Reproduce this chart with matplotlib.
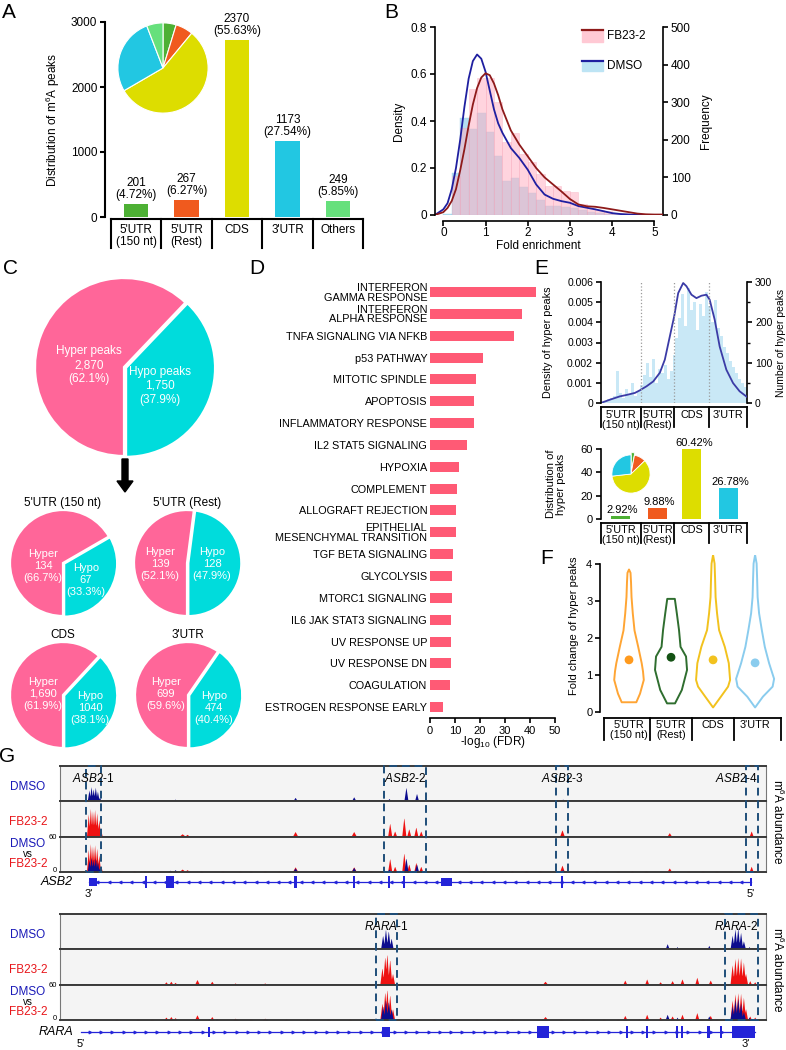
import numpy as np
import matplotlib
matplotlib.use("Agg")
import matplotlib.pyplot as plt
import matplotlib.transforms as mtransforms
from matplotlib.patches import Rectangle, Polygon, FancyArrow

plt.rcParams['font.family'] = ['Liberation Sans', 'DejaVu Sans']
plt.rcParams['mathtext.fontset'] = 'custom'
plt.rcParams['mathtext.rm'] = 'Liberation Sans'
plt.rcParams['mathtext.it'] = 'Liberation Sans:italic'
plt.rcParams['mathtext.default'] = 'regular'
plt.rcParams['axes.linewidth'] = 1.2
for _a in ('xtick', 'ytick'):
    plt.rcParams[f'{_a}.major.width'] = 1.2
    plt.rcParams[f'{_a}.major.size'] = 3.5
    plt.rcParams[f'{_a}.minor.width'] = 1.0
    plt.rcParams[f'{_a}.minor.size'] = 2.2
    plt.rcParams[f'{_a}.major.pad'] = 2
    plt.rcParams[f'{_a}.labelsize'] = 8

# ======================= DATA =======================
# --- A: distribution of m6A peaks
regions_a = ["5'UTR\n(150 nt)", "5'UTR\n(Rest)", "CDS", "3'UTR", "Others"]
peak_counts = [201, 267, 2370, 1173, 249]
peak_pcts = [4.72, 6.27, 55.63, 27.54, 5.85]
peak_bar_heights = [201, 267, 2730, 1173, 249]
region_colors = ['#4DB034', '#F05A1E', '#DDDD00', '#22C7E2', '#66E07C']

# --- B: fold enrichment
hist_bin_left = [0.0, 0.2, 0.4, 0.6, 0.8, 1.0, 1.2, 1.4, 1.6, 1.8, 2.0, 2.2, 2.4,
                 2.6, 2.8, 3.0, 3.2, 3.4, 3.6, 3.8, 4.0, 4.2, 4.4, 4.6, 4.8]
fb23_freq = [0, 105, 231, 335, 365, 365, 300, 195, 218, 163, 140, 110, 78,
             78, 65, 62, 30, 18, 12, 10, 6, 4, 2, 1, 0]
dmso_freq = [3, 112, 258, 228, 271, 220, 158, 90, 99, 74, 59, 40, 24,
             24, 22, 18, 12, 8, 5, 3, 2, 1, 0, 0, 0]
dens_x = [-0.2, 0.0, 0.1, 0.2, 0.3, 0.4, 0.5, 0.6, 0.7, 0.8, 0.9, 1.0, 1.1, 1.2, 1.3,
          1.4, 1.6, 1.8, 2.0, 2.2, 2.4, 2.6, 2.8, 3.0, 3.2, 3.4, 3.6, 3.8, 4.0,
          4.2, 4.4, 4.6, 4.8, 5.0, 5.2]
dmso_density = [0.0, 0.024, 0.05, 0.11, 0.2, 0.32, 0.46, 0.58, 0.655, 0.683, 0.665,
                0.61, 0.53, 0.45, 0.39, 0.35, 0.285, 0.243, 0.193, 0.13, 0.087,
                0.069, 0.059, 0.052, 0.038, 0.031, 0.024, 0.016, 0.008, 0.004,
                0.002, 0.001, 0.0, 0.0, 0.0]
fb23_density = [0.0, 0.012, 0.03, 0.06, 0.11, 0.19, 0.28, 0.38, 0.47, 0.54, 0.585,
                0.603, 0.595, 0.56, 0.51, 0.45, 0.36, 0.30, 0.25, 0.20, 0.16,
                0.13, 0.10, 0.068, 0.045, 0.037, 0.035, 0.030, 0.024, 0.018,
                0.012, 0.006, 0.003, 0.002, 0.002]

# --- C: hyper / hypo peaks
pie_groups = ["5'UTR (150 nt)", "5'UTR (Rest)", "CDS", "3'UTR"]
hyper_counts = [134, 139, 1690, 699]
hypo_counts = [67, 128, 1040, 474]
hyper_lbl = ["134", "139", "1,690", "699"]
hypo_lbl = ["67", "128", "1040", "474"]
hyper_pct = [66.7, 52.1, 61.9, 59.6]
hypo_pct = [33.3, 47.9, 38.1, 40.4]
total_hyper, total_hypo = 2870, 1750
total_hyper_pct, total_hypo_pct = 62.1, 37.9

# --- D: hallmark enrichment
hallmarks = ["INTERFERON\nGAMMA RESPONSE", "INTERFERON\nALPHA RESPONSE",
             "TNFA SIGNALING VIA NFKB", "p53 PATHWAY", "MITOTIC SPINDLE",
             "APOPTOSIS", "INFLAMMATORY RESPONSE", "IL2 STAT5 SIGNALING",
             "HYPOXIA", "COMPLEMENT", "ALLOGRAFT REJECTION",
             "EPITHELIAL\nMESENCHYMAL TRANSITION", "TGF BETA SIGNALING",
             "GLYCOLYSIS", "MTORC1 SIGNALING", "IL6 JAK STAT3 SIGNALING",
             "UV RESPONSE UP", "UV RESPONSE DN", "COAGULATION",
             "ESTROGEN RESPONSE EARLY"]
neglog_fdr = [42.4, 36.8, 33.6, 21.0, 18.4, 17.7, 17.5, 14.9, 11.7, 10.9, 10.3,
              10.3, 9.3, 8.8, 8.8, 8.5, 8.5, 8.4, 8.0, 5.3]

# --- E: metagene of hyper peaks
metagene_regions = ["5'UTR\n(150 nt)", "5'UTR\n(Rest)", "CDS", "3'UTR"]
metagene_edges = [0, 40, 74, 109, 147]
e_curve_x = [0, 9.3, 19.3, 26, 34.3, 39.3, 46, 52.7, 59.3, 64.3, 69.3, 73.7, 77.7,
             82.7, 86, 91, 96, 101, 106, 109.3, 114.3, 119.3, 126, 132.7, 139.3, 146.7]
e_curve_y = [0, 0.000165, 0.00033, 0.0004, 0.0005, 0.00063, 0.00083, 0.00107,
             0.0015, 0.00215, 0.0033, 0.0043, 0.00545, 0.00595, 0.00579, 0.00537,
             0.0052, 0.00532, 0.00537, 0.00512, 0.00413, 0.0028, 0.00165, 0.00099,
             0.00058, 0.0003]
e_hist_counts = [3, 6, 10, 12, 18, 80, 25, 12, 35, 22, 50, 18, 30,
                 45, 70, 100, 65, 110, 50, 85, 75, 95, 60, 80, 120,
                 160, 210, 270, 190, 285, 230, 250, 180, 245, 215, 275,
                 240, 200, 255, 185, 165, 140, 125, 105, 90, 75, 60, 50, 40]
hyper_dist_pct = [2.92, 9.88, 60.42, 26.78]

# --- F: violin profiles (fold change, half-width)
violin_colors = ['#FFA534', '#2F6E2F', '#F2C21E', '#8ACCEE']
violin_dot_colors = ['#FF9A1E', '#145214', '#F2C21E', '#8ACCEE']
violin_y = [
    [0.27, 0.5, 0.87, 1.1, 1.32, 1.76, 2.2, 2.66, 3.1, 3.5, 3.75, 3.84],
    [0.24, 0.6, 1.14, 1.5, 1.76, 2.21, 2.66, 3.05],
    [0.13, 0.42, 0.69, 0.87, 1.32, 1.76, 2.21, 2.66, 3.1, 3.6, 4.0, 4.23],
    [0.13, 0.42, 0.69, 0.9, 1.32, 1.76, 2.21, 2.66, 3.1, 3.6, 4.0, 4.23],
]
violin_hw = [
    [0.174, 0.262, 0.352, 0.333, 0.302, 0.219, 0.131, 0.090, 0.060, 0.048, 0.036, 0.0],
    [0.095, 0.257, 0.381, 0.357, 0.226, 0.190, 0.138, 0.090],
    [0.0, 0.186, 0.357, 0.405, 0.374, 0.279, 0.143, 0.095, 0.060, 0.048, 0.036, 0.0],
    [0.0, 0.186, 0.417, 0.452, 0.333, 0.231, 0.160, 0.095, 0.060, 0.048, 0.036, 0.0],
]
violin_median = [1.41, 1.48, 1.41, 1.33]

# --- G: IGV-like tracks (position 0-100, height 0-60, half width)
asb2_dmso_peaks = [(4.1, 20, 0.25), (4.4, 26, 0.25), (4.7, 22, 0.25), (5.0, 25, 0.25),
                   (5.3, 18, 0.25), (5.6, 8, 0.2), (12.0, 2, 0.2), (15.6, 3, 0.3),
                   (16.3, 4, 0.3), (33.3, 7, 0.35), (41.6, 8, 0.35), (46.6, 5, 0.3),
                   (48.1, 3, 0.2), (49.0, 25, 0.3), (50.5, 14, 0.3), (71.2, 4, 0.3),
                   (97.7, 2, 0.2), (20.0, 1, 0.2), (27.0, 1, 0.2), (58.0, 1, 0.2)]
asb2_fb23_peaks = [(4.0, 40, 0.25), (4.3, 50, 0.25), (4.6, 46, 0.25), (4.9, 48, 0.25),
                   (5.2, 42, 0.25), (5.5, 30, 0.25), (5.8, 10, 0.2), (17.3, 5, 0.5),
                   (18.0, 4, 0.4), (33.3, 9, 0.4), (41.6, 9, 0.4), (46.7, 24, 0.3),
                   (47.4, 10, 0.3), (48.7, 34, 0.3), (49.4, 14, 0.3), (50.4, 17, 0.3),
                   (51.1, 10, 0.3), (71.1, 12, 0.35), (86.3, 7, 0.35), (97.9, 10, 0.3)]
asb2_fb23_blips = [8.5, 10.5, 14, 20, 23, 25.5, 27, 29, 31, 36.5, 38, 44, 53, 56, 58,
                   60, 62.5, 64, 66, 68, 74, 76, 79, 81, 83, 89, 91, 93, 95]
asb2_boxes = [(3.7, 5.8), (45.9, 51.9), (70.3, 71.9), (97.2, 98.8)]
asb2_box_labels = ["1", "2", "3", "4"]
asb2_exons = [(4.1, 5.2, 0.45), (12.0, 12.3, 0.7), (15.0, 16.1, 0.7), (33.2, 33.5, 0.7),
              (41.5, 41.8, 0.7), (46.5, 46.8, 0.7), (48.6, 48.9, 0.7), (54.0, 55.5, 0.5),
              (71.0, 71.3, 0.7), (97.7, 98.0, 0.5)]
asb2_span = (4.1, 97.9)

rara_dmso_peaks = [(21.1, 2, 0.2), (22.2, 2, 0.2), (29.3, 1.5, 0.2), (45.7, 25, 0.3),
                   (46.1, 36, 0.3), (46.5, 33, 0.3), (46.9, 20, 0.3), (68.3, 1.5, 0.2),
                   (80.0, 3, 0.2), (86.0, 10, 0.3), (87.4, 5, 0.2), (89.2, 2, 0.2),
                   (91.9, 7, 0.25), (95.2, 25, 0.3), (95.6, 36, 0.3), (96.0, 38, 0.3),
                   (96.4, 30, 0.3), (96.8, 15, 0.3), (97.6, 5, 0.2)]
rara_fb23_peaks = [(15.0, 5, 0.3), (15.7, 6, 0.3), (16.3, 4, 0.3), (19.4, 9, 0.35),
                   (21.5, 6, 0.3), (24.8, 3, 0.3), (29.0, 3, 0.3), (45.6, 30, 0.3),
                   (46.0, 50, 0.3), (46.3, 55, 0.3), (46.7, 45, 0.3), (47.1, 20, 0.3),
                   (68.7, 6, 0.4), (80.0, 8, 0.3), (83.1, 10, 0.3), (85.0, 5, 0.3),
                   (86.7, 7, 0.3), (88.1, 10, 0.3), (90.2, 13, 0.3), (92.1, 8, 0.3),
                   (95.2, 35, 0.3), (95.6, 46, 0.3), (96.0, 48, 0.3), (96.4, 47, 0.3),
                   (96.8, 40, 0.3), (97.1, 20, 0.3), (97.7, 7, 0.25), (98.4, 5, 0.25)]
rara_fb23_blips = [5, 8, 11, 13, 25, 27, 32, 35, 38, 41, 50, 53, 56, 59, 62, 64, 71,
                   74, 77, 79, 82, 90.8, 93]
rara_boxes = [(44.8, 47.7), (94.2, 98.8)]
rara_box_labels = ["1", "2"]
rara_exons = [(20.9, 21.3, 0.6), (45.6, 46.7, 0.6), (67.6, 69.3, 0.7), (80.1, 80.4, 0.7),
              (83.0, 83.3, 0.7), (87.2, 87.5, 0.7), (88.0, 88.3, 0.7), (91.7, 92.0, 0.7),
              (93.5, 93.8, 0.7), (95.2, 98.4, 0.7)]
rara_span = (3.0, 98.4)

# ======================= FIGURE =======================
W, H = 786, 1050
fig = plt.figure(figsize=(W / 100, H / 100), dpi=100)
fig.patch.set_facecolor('white')


def add_ax(x0, y0, x1, y1, **kw):
    return fig.add_axes([x0 / W, 1 - y1 / H, (x1 - x0) / W, (y1 - y0) / H], **kw)


ov = fig.add_axes([0, 0, 1, 1], zorder=100)
ov.set_xlim(0, W)
ov.set_ylim(H, 0)
ov.axis('off')


def cat_boxes(ax, ax_top, ax_bot, seps, centers, labels, line_top, line_bot,
              label_top, fs, ls=1.0, lw=1.3):
    span = ax_bot - ax_top
    fy = lambda p: (ax_bot - p) / span
    tr = mtransforms.blended_transform_factory(ax.transData, ax.transAxes)
    ax.plot([seps[0], seps[-1]], [fy(line_top)] * 2, transform=tr, clip_on=False,
            color='k', lw=lw, solid_capstyle='projecting')
    for s in seps:
        ax.plot([s, s], [fy(line_top), fy(line_bot)], transform=tr, clip_on=False,
                color='k', lw=lw)
    for c, l in zip(centers, labels):
        ax.text(c, fy(label_top), l, transform=tr, ha='center', va='top',
                fontsize=fs, linespacing=ls)


# panel letters
for L, x, y in [("A", 9, 12), ("B", 391, 12), ("C", 10, 268), ("D", 257, 268),
                ("E", 541, 268), ("F", 547, 558), ("G", 7, 757)]:
    ov.text(x, y, L, fontsize=15, ha='center', va='center')

# ---------------- A ----------------
axA = add_ax(105, 22, 362, 217)
axA.set_xlim(-0.614, 4.475)
axA.set_ylim(0, 3000)
axA.set_autoscale_on(False)
xa = np.arange(len(regions_a))
axA.bar(xa, peak_bar_heights, width=0.48, color=region_colors)
for i, (h, c, p) in enumerate(zip(peak_bar_heights, peak_counts, peak_pcts)):
    axA.annotate(f"{c}\n({p:.2f}%)", (i, h), xytext=(0, 2), textcoords='offset points',
                 ha='center', va='bottom', fontsize=8.5, linespacing=1.0)
axA.spines[['top', 'right', 'bottom']].set_visible(False)
axA.spines['left'].set_linewidth(1.5)
axA.set_xticks([])
axA.set_yticks([0, 1000, 2000, 3000])
axA.tick_params(axis='y', width=1.5, labelsize=8.5)
axA.set_ylabel(r"Distribution of m$^{6}$A peaks", fontsize=8.5)
axA.yaxis.set_label_coords((62 - 105) / 257, 0.5)
cat_boxes(axA, 22, 217, [i - 0.5 for i in range(6)], xa, regions_a, 219, 248, 224,
          8.5, ls=1.0, lw=1.5)

axPA = add_ax(117, 22, 209, 114)
axPA.pie(peak_pcts, colors=region_colors, startangle=90, counterclock=False,
         wedgeprops=dict(edgecolor='white', linewidth=0.8))
axPA.set_xlim(-1.02, 1.02)
axPA.set_ylim(-1.02, 1.02)

# ---------------- B ----------------
axB = add_ax(435, 27, 663, 215)
axB2 = axB.twinx()
axB2.bar(hist_bin_left, dmso_freq, width=0.2, align='edge', color='#A6D9EF',
         alpha=0.85, edgecolor='#9CD0E8', linewidth=0.3)
axB2.bar(hist_bin_left, fb23_freq, width=0.2, align='edge', color='#FFB1C3',
         alpha=0.55, edgecolor='#F7A2B6', linewidth=0.4)
axB.plot(dens_x, dmso_density, color='#1F1FA0', lw=1.3)
axB.plot(dens_x, fb23_density, color='#8E1A1A', lw=1.3)
axB.set_zorder(axB2.get_zorder() + 1)
axB.patch.set_visible(False)
axB.set_xlim(-0.197, 5.206)
axB.set_ylim(0, 0.8)
axB2.set_ylim(0, 500)
axB.spines[['top', 'right']].set_visible(False)
axB2.spines[['top', 'left', 'bottom']].set_visible(False)
axB.spines['bottom'].set_position(('outward', 4))
axB.spines['bottom'].set_bounds(0, 5)
axB.spines['left'].set_bounds(0, 0.8)
axB2.spines['right'].set_bounds(0, 500)
axB.set_xticks([0, 1, 2, 3, 4, 5])
axB.set_yticks([0, 0.2, 0.4, 0.6, 0.8])
axB.set_yticklabels(['0', '0.2', '0.4', '0.6', '0.8'])
axB2.set_yticks([0, 100, 200, 300, 400, 500])
axB.tick_params(labelsize=8.5)
axB.tick_params(axis='x', pad=1.5)
axB2.tick_params(labelsize=8.5)
axB.set_ylabel("Density", fontsize=8.5)
axB.yaxis.set_label_coords((405 - 435) / 228, 0.5)
axB2.set_ylabel("Frequency", fontsize=8.5)
axB2.yaxis.set_label_coords((700 - 435) / 228, 0.5)
axB.set_xlabel("Fold enrichment", fontsize=8.5)
axB.xaxis.set_label_coords((538 - 435) / 228, (215 - 246) / 188)
axB.xaxis.label.set_va('center')
# legend
ov.plot([582, 603], [29.5, 29.5], color='#8E1A1A', lw=1.6)
ov.add_patch(Rectangle((582, 31), 21, 10.5, color='#FFC9D4'))
ov.text(607, 36, "FB23-2", fontsize=8.5, va='center')
ov.plot([582, 603], [60.5, 60.5], color='#1F1FA0', lw=1.6)
ov.add_patch(Rectangle((582, 62), 21, 9, color='#BDE4F4'))
ov.text(607, 66, "DMSO", fontsize=8.5, va='center')

# ---------------- C ----------------
PINK, CYAN = '#FF6699', '#00DCDC'


def draw_pie(cx, cy, r, hyper, hypo, hyper_text, hypo_text, hpos, opos, fs, ls):
    pad = 3
    ax = add_ax(cx - r - pad, cy - r - pad, cx + r + pad, cy + r + pad)
    ax.pie([hypo, hyper], colors=[CYAN, PINK], startangle=-90, counterclock=True,
           explode=[0.025, 0], wedgeprops=dict(edgecolor='white', linewidth=1.6))
    lim = (r + pad) / r
    ax.set_xlim(-lim, lim)
    ax.set_ylim(-lim, lim)
    ax.text(hpos[0] / r, -hpos[1] / r, hyper_text, color='white', ha='center',
            va='center', fontsize=fs, linespacing=ls)
    ax.text(opos[0] / r, -opos[1] / r, hypo_text, color='white', ha='center',
            va='center', fontsize=fs, linespacing=ls)


draw_pie(124, 367, 89, total_hyper, total_hypo,
         f"Hyper peaks\n{total_hyper:,}\n({total_hyper_pct}%)",
         f"Hypo peaks\n{total_hypo:,}\n({total_hypo_pct}%)",
         (-35, -2), (36, 19), 8.5, 1.25)
ov.add_patch(FancyArrow(125, 459, 0, 33, width=6, head_width=16, head_length=11,
                        length_includes_head=True, color='k'))
small_centers = [(63, 563), (187, 563), (63, 695), (188, 695)]
hyper_offsets = [(-20, 3), (-27, 1), (-20, -1), (-22, -1)]
hypo_offsets = [(23, 17), (25, 1), (27, 13), (26, 13)]
for k in range(4):
    cx, cy = small_centers[k]
    ov.text(cx, cy - 60, pie_groups[k], ha='center', va='center', fontsize=8.5)
    draw_pie(cx, cy, 53, hyper_counts[k], hypo_counts[k],
             f"Hyper\n{hyper_lbl[k]}\n({hyper_pct[k]}%)",
             f"Hypo\n{hypo_lbl[k]}\n({hypo_pct[k]}%)",
             hyper_offsets[k], hypo_offsets[k], 8, 1.25)

# ---------------- D ----------------
axD = add_ax(430, 280, 555, 718)
yD = np.arange(len(hallmarks))
axD.barh(yD, neglog_fdr, height=0.46, color='#FF5A75')
axD.set_ylim(19.5, -0.55)
axD.set_xlim(0, 50)
axD.set_yticks(yD)
axD.set_yticklabels(hallmarks, fontsize=7.8, linespacing=0.95)
axD.tick_params(axis='y', length=0, pad=2)
axD.spines[['top', 'right', 'left']].set_visible(False)
axD.spines['bottom'].set_bounds(0, 50)
axD.set_xticks([0, 10, 20, 30, 40, 50])
axD.set_xlabel(r"-log$_{10}$ (FDR)", fontsize=8.5)
axD.xaxis.set_label_coords(0.5, (718 - 742) / 438)
axD.xaxis.label.set_va('center')

# ---------------- E (top) ----------------
axE = add_ax(600.7, 282, 747.3, 403)
axE2 = axE.twinx()
e_bin_left = np.arange(0, 147, 3)
axE2.bar(e_bin_left, e_hist_counts, width=3, align='edge', color='#C4E6F6',
         alpha=0.9, linewidth=0)
axE.plot(e_curve_x, e_curve_y, color='#3B3BA6', lw=1.3)
axE.set_zorder(axE2.get_zorder() + 1)
axE.patch.set_visible(False)
axE.set_xlim(0, 147)
axE.set_ylim(0, 0.006)
axE2.set_ylim(0, 300)
axE.set_autoscale_on(False)
for e in metagene_edges[1:-1]:
    axE.axvline(e, color='#9A9A9A', ls=':', lw=0.9)
axE.spines[['top', 'right', 'bottom']].set_visible(False)
axE2.spines[['top', 'left', 'bottom']].set_visible(False)
axE.set_xticks([])
axE.set_yticks([0, 0.001, 0.002, 0.003, 0.004, 0.005, 0.006])
axE.set_yticklabels(['0', '0.001', '0.002', '0.003', '0.004', '0.005', '0.006'])
axE.tick_params(axis='y', labelsize=7.5)
axE2.set_yticks([0, 100, 200, 300])
axE2.set_yticks([50, 150, 250], minor=True)
axE2.tick_params(axis='y', labelsize=7.5)
axE.set_ylabel("Density of hyper peaks", fontsize=7.8)
axE.yaxis.set_label_coords((553 - 600.7) / 146.6, 0.5)
axE2.set_ylabel("Number of hyper peaks", fontsize=7.5)
axE2.yaxis.set_label_coords((776 - 600.7) / 146.6, 0.5)
e_centers = [(metagene_edges[i] + metagene_edges[i + 1]) / 2 for i in range(4)]
cat_boxes(axE, 282, 403, metagene_edges, e_centers, metagene_regions, 407, 427, 410,
          7.8, ls=0.95)

# ---------------- E (bottom) ----------------
axEb = add_ax(600.7, 449, 747.3, 519.3)
axEb.set_xlim(0, 147)
axEb.set_ylim(0, 60)
axEb.set_autoscale_on(False)
axEb.bar(e_centers, hyper_dist_pct, width=19, color=region_colors[:4])
for c, v in zip(e_centers, hyper_dist_pct):
    axEb.annotate(f"{v:.2f}%", (c + 2, v), xytext=(0, 0.5), textcoords='offset points',
                  ha='center', va='bottom', fontsize=8)
axEb.spines[['top', 'right', 'bottom']].set_visible(False)
axEb.set_xticks([])
axEb.set_yticks([0, 20, 40, 60])
axEb.tick_params(axis='y', labelsize=8)
axEb.set_ylabel("Distribution of\nhyper peaks", fontsize=8, linespacing=1.0)
axEb.yaxis.set_label_coords((566 - 600.7) / 146.6, 0.5)
cat_boxes(axEb, 449, 519.3, metagene_edges, e_centers, metagene_regions, 523, 543, 525,
          7.8, ls=0.95)
axPE = add_ax(610, 453, 652, 495)
axPE.pie(hyper_dist_pct, colors=region_colors[:4], startangle=90, counterclock=False,
         explode=[0.12, 0, 0, 0], wedgeprops=dict(edgecolor='white', linewidth=0.6))
axPE.set_xlim(-1.1, 1.1)
axPE.set_ylim(-1.1, 1.1)

# ---------------- F ----------------
axF = add_ax(600, 555, 782, 712.3)
axF.set_xlim(-0.69, 3.64)
axF.set_ylim(0, 4.23)
axF.set_autoscale_on(False)
for i in range(4):
    ys = violin_y[i]
    hw = violin_hw[i]
    pts = [(i + w, y) for y, w in zip(ys, hw)] + [(i - w, y) for y, w in zip(ys[::-1], hw[::-1])]
    axF.add_patch(Polygon(pts, closed=True, fill=False, edgecolor=violin_colors[i],
                          lw=1.4, joinstyle='round'))
axF.scatter(range(4), violin_median, s=28, color=violin_dot_colors, zorder=3)
axF.spines[['top', 'right', 'bottom']].set_visible(False)
axF.spines['left'].set_bounds(0, 4)
axF.set_xticks([])
axF.set_yticks([0, 1, 2, 3, 4])
axF.tick_params(axis='y', labelsize=8)
axF.set_ylabel("Fold change of hyper peaks", fontsize=8)
axF.yaxis.set_label_coords((579 - 600) / 182, 0.55)
cat_boxes(axF, 555, 712.3, [-0.6, 0.5, 1.5, 2.5, 3.62], range(4), metagene_regions,
          718, 740, 720, 7.8, ls=0.95)

# ---------------- G ----------------
DMSO_C, FB_C = '#0C0C8E', '#EE1111'
xs_g = np.linspace(0, 100, 3000)


def coverage(peaks, blips):
    y = np.zeros_like(xs_g)
    allp = list(peaks) + [(b, 1.5, 0.3) for b in blips]
    for p, h, w in allp:
        y = np.maximum(y, h * np.clip(1 - np.abs(xs_g - p) / w, 0, None))
    return y


def track_block(top, dmso_peaks, fb_peaks, fb_blips, boxes, box_labels, gene,
                exons, span, strand, gene_y, end_labels):
    th = 35.3
    cov_d = coverage(dmso_peaks, [])
    cov_f = coverage(fb_peaks, fb_blips)
    layers = [[(cov_d, DMSO_C)], [(cov_f, FB_C)], [(cov_f, FB_C), (cov_d, DMSO_C)]]
    for k in range(3):
        ax = add_ax(60, top + k * th, 766, top + (k + 1) * th)
        ax.set_facecolor('#F4F4F4')
        for cov, col in layers[k]:
            ax.fill_between(xs_g, 0, cov, color=col, lw=0)
        ax.set_xlim(0, 100)
        ax.set_ylim(0, 62)
        ax.set_xticks([])
        ax.set_yticks([])
        for s in ('top', 'bottom'):
            ax.spines[s].set_color('#3A3A3A')
            ax.spines[s].set_linewidth(1.4)
        for s in ('left', 'right'):
            ax.spines[s].set_color('#777777')
            ax.spines[s].set_linewidth(0.8)
    # labels
    ov.text(28, top + 0.6 * th, "DMSO", color='#1A1AB8', ha='center', va='center', fontsize=8.5)
    ov.text(28, top + 1.6 * th, "FB23-2", color='#E8161B', ha='center', va='center', fontsize=8.5)
    ov.text(28, top + 2.5 * th - 10, "DMSO", color='#1A1AB8', ha='center', va='center', fontsize=8.5)
    ov.text(28, top + 2.5 * th, "vs", color='black', ha='center', va='center', fontsize=7)
    ov.text(28, top + 2.5 * th + 10, "FB23-2", color='#E8161B', ha='center', va='center', fontsize=8.5)
    ov.text(57, top + 2 * th + 1, "60", ha='right', va='center', fontsize=5.5)
    ov.text(57, top + 3 * th - 1, "0", ha='right', va='center', fontsize=5.5)
    ov.text(778, top + 1.5 * th + 3, r"m$^{6}$A abundance", rotation=270, ha='center',
            va='center', fontsize=8.5)
    # dashed boxes
    axb = add_ax(60, top, 766, top + 3 * th, zorder=20)
    axb.set_xlim(0, 100)
    axb.set_ylim(0, 1)
    axb.axis('off')
    for (x0, x1), lab in zip(boxes, box_labels):
        axb.add_patch(Rectangle((x0, 0), x1 - x0, 1, fill=False, ls=(0, (4, 2.5)),
                                ec='#1F4E79', lw=1.4, clip_on=False))
        txt = r"$\it{%s}$-%s" % (gene, lab)
        if x1 > 95:
            axb.text(x1 + 0.1, 1 - 12 / (3 * th), txt, ha='right', va='center', fontsize=8.5)
        else:
            axb.text((x0 + x1) / 2, 1 - 12 / (3 * th), txt, ha='center', va='center', fontsize=8.5)
    # gene model
    axg = add_ax(60, gene_y - 8, 766, gene_y + 8)
    axg.set_xlim(0, 100)
    axg.set_ylim(-1, 1)
    axg.axis('off')
    axg.plot(span, [0, 0], color='#2424D8', lw=0.9)
    tick_x = np.arange(span[0] + 1.2, span[1] - 0.5, 1.6)
    axg.plot(tick_x, np.zeros_like(tick_x), ls='none', marker=strand, ms=2.2,
             color='#2424D8', mew=0.6)
    for x0, x1, hh in exons:
        axg.add_patch(Rectangle((x0, -hh), x1 - x0, 2 * hh, color='#2424D8', lw=0))
    ov.text(73, gene_y, gene, style='italic', ha='right', va='center', fontsize=9)
    for (ex, lab) in end_labels:
        ov.text(60 + ex * 7.06, gene_y + 12, lab, ha='center', va='center', fontsize=8)


track_block(766, asb2_dmso_peaks, asb2_fb23_peaks, asb2_fb23_blips, asb2_boxes,
            asb2_box_labels, "ASB2", asb2_exons, asb2_span, '<', 882,
            [(asb2_span[0], "3'"), (asb2_span[1], "5'")])
track_block(914, rara_dmso_peaks, rara_fb23_peaks, rara_fb23_blips, rara_boxes,
            rara_box_labels, "RARA", rara_exons, rara_span, '>', 1032,
            [(rara_span[0], "5'"), (rara_span[1] - 1.2, "3'")])

fig.savefig("out.png", dpi=100)
